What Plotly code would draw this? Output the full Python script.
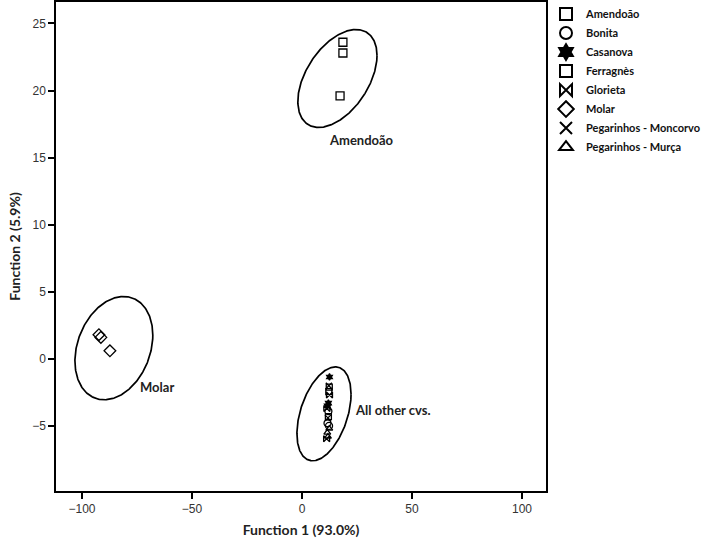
import numpy as np
import plotly.graph_objects as go

# ---- data ----
groups = ["Amendoão", "Bonita", "Casanova", "Ferragnès", "Glorieta", "Molar",
          "Pegarinhos - Moncorvo", "Pegarinhos - Murça"]
f1 = {
    "Amendoão": [18.6, 18.6, 17.3],
    "Bonita": [12.0, 11.6, 12.3],
    "Casanova": [12.5, 12.0, 11.5],
    "Ferragnès": [12.4, 12.2, 12.0],
    "Glorieta": [11.3, 11.2, 12.5],
    "Molar": [-92.3, -91.4, -87.3],
    "Pegarinhos - Moncorvo": [12.2, 12.0, 11.8],
    "Pegarinhos - Murça": [11.5, 11.8, 12.4],
}
f2 = {
    "Amendoão": [23.6, 22.8, 19.6],
    "Bonita": [-3.9, -4.8, -5.0],
    "Casanova": [-1.35, -3.3, -3.5],
    "Ferragnès": [-2.1, -2.45, -4.3],
    "Glorieta": [-3.7, -5.95, -2.7],
    "Molar": [1.8, 1.6, 0.6],
    "Pegarinhos - Moncorvo": [-2.0, -3.6, -4.4],
    "Pegarinhos - Murça": [-5.5, -5.8, -5.2],
}
symbols = {
    "Amendoão": "square-open",
    "Bonita": "circle-open",
    "Casanova": "hexagram",
    "Ferragnès": "square-open",
    "Glorieta": "bowtie-open",
    "Molar": "diamond-open",
    "Pegarinhos - Moncorvo": "x-thin-open",
    "Pegarinhos - Murça": "triangle-up-open",
}
sizes = {
    "Amendoão": 8, "Bonita": 7, "Casanova": 5, "Ferragnès": 6, "Glorieta": 6,
    "Molar": 9, "Pegarinhos - Moncorvo": 6, "Pegarinhos - Murça": 6,
}

# group ellipses: centre x, centre y, half-range x, half-range y, tilt correlation
ell_names = ["Amendoão", "Molar", "All other cvs."]
ell_cx = [16.1, -85.5, 10.0]
ell_cy = [20.9, 0.8, -4.1]
ell_rx = [18.0, 17.7, 12.3]
ell_ry = [3.65, 3.85, 3.5]
ell_rho = [0.47, 0.25, 0.42]

label_text = ["Amendoão", "Molar", "All other cvs."]
label_x = [27, -66, 41.5]
label_y = [16.3, -2.1, -3.8]

x_ticks = [-100, -50, 0, 50, 100]
y_ticks = [-5, 0, 5, 10, 15, 20, 25]

FONT_TXT = "Lato, Open Sans, sans-serif"

fig = go.Figure()

t = np.linspace(0, 2 * np.pi, 300)
for cx, cy, rx, ry, rho in zip(ell_cx, ell_cy, ell_rx, ell_ry, ell_rho):
    d = np.arccos(rho)
    fig.add_trace(go.Scatter(
        x=cx + rx * np.cos(t), y=cy + ry * np.cos(t - d),
        mode="lines", line=dict(color="black", width=1.7),
        showlegend=False, hoverinfo="skip"))

for g in groups:
    fig.add_trace(go.Scatter(
        x=f1[g], y=f2[g], mode="markers", name=g,
        marker=dict(symbol=symbols[g], size=sizes[g], color="black",
                    line=dict(color="black", width=1.3))))

for txt, lx, ly in zip(label_text, label_x, label_y):
    fig.add_annotation(x=lx, y=ly, text="<b>" + txt + "</b>", showarrow=False,
                       font=dict(family=FONT_TXT, size=13, color="#222"))

axis_common = dict(showgrid=False, zeroline=False, showline=True, linecolor="black",
                   linewidth=1.5, mirror=True, ticks="outside", ticklen=6,
                   tickwidth=1.5, tickcolor="black",
                   tickfont=dict(family="Liberation Sans, Arial, sans-serif", size=12, color="#333"))

fig.update_layout(
    width=709, height=543,
    margin=dict(l=56, r=163, t=2, b=52, autoexpand=False),
    paper_bgcolor="white", plot_bgcolor="white",
    xaxis=dict(range=[-111.8, 110.9], tickvals=x_ticks,
               title=dict(text="<b>Function 1 (93.0%)</b>", standoff=10,
                          font=dict(family=FONT_TXT, size=14, color="#222")),
               **axis_common),
    yaxis=dict(range=[-9.85, 26.6], tickvals=y_ticks,
               title=dict(text="<b>Function 2 (5.9%)</b>", standoff=8,
                          font=dict(family=FONT_TXT, size=14, color="#222")),
               **axis_common),
    legend=dict(x=1.0, y=1.005, xanchor="left", yanchor="top", tracegroupgap=0,
                itemwidth=30,
                font=dict(family=FONT_TXT, size=11, color="#111", weight=700),
                itemsizing="constant", bgcolor="rgba(0,0,0,0)"),
    showlegend=True,
)

fig.write_html("out.html", config={"displayModeBar": False},
               post_script="document.body.style.margin='0';document.body.style.padding='0';")
